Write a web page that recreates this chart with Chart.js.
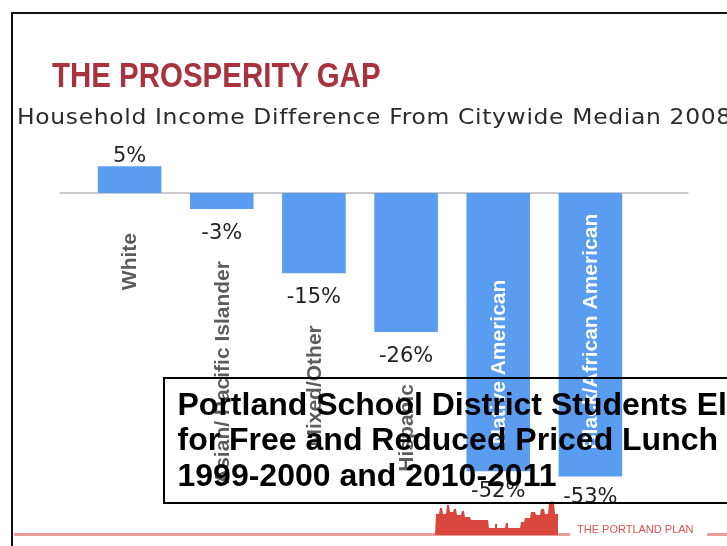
<!DOCTYPE html>
<html><head><meta charset="utf-8">
<script src="https://cdn.jsdelivr.net/npm/chart.js@4.4.0/dist/chart.umd.min.js"></script>
<style>
html,body{margin:0;padding:0;background:#fff;overflow:hidden;width:727px;height:546px;}
#wrap{position:relative;width:727px;height:546px;overflow:hidden;background:#fff;}
#c{position:absolute;left:0;top:0;}
.fr{position:absolute;background:#111;}
#title{position:absolute;left:52px;top:58px;font-family:"Liberation Sans",Arial,sans-serif;font-weight:bold;font-size:35.5px;line-height:35.5px;color:#a8333c;white-space:nowrap;transform-origin:0 0;transform:scaleX(0.83);}
#sub{position:absolute;left:17px;top:107px;font-family:"DejaVu Sans",sans-serif;font-size:21px;line-height:21px;letter-spacing:0.6px;color:#2b2b2b;white-space:nowrap;transform-origin:0 0;transform:scaleX(1.115);}
#box{position:absolute;left:163px;top:377px;width:700px;height:115px;border:2.5px solid #000;padding:7.5px 0 0 12.5px;font-family:"Liberation Sans",Arial,sans-serif;font-weight:bold;font-size:32px;line-height:35.5px;color:#000;white-space:nowrap;box-sizing:content-box;}
#plan{position:absolute;left:577px;top:524px;font-family:"Liberation Sans",Arial,sans-serif;font-size:11px;line-height:11px;color:#d9534f;white-space:nowrap;}
.rl{position:absolute;height:3px;background:#e89d9d;top:533px;}
svg{position:absolute;left:0;top:0;}
</style>
</head><body>
<div id="wrap">
<canvas id="c" width="727" height="546"></canvas>
<div class="fr" style="left:11px;top:12px;width:800px;height:2px;"></div>
<div class="fr" style="left:11px;top:12px;width:2px;height:600px;"></div>
<div id="title">THE PROSPERITY GAP</div>
<div id="sub">Household Income Difference From Citywide Median 2008</div>
<div class="rl" style="left:14px;width:556px;"></div>
<div class="rl" style="left:707px;width:40px;"></div>
<svg width="727" height="546"><polygon fill="#d9473f" points="435,535 436,514 439,514 440,508 442,508 443,514 446,514 447,505 449,505 450,512 453,512 454,509 456,509 457,515 461,515 462,511 464,511 465,517 470,517 471,520 488,520 489,528 495,528 495,524 497,524 497,528 505,528 506,523 508,523 508,528 520,528 521,522 524,522 525,518 530,518 531,512 535,512 536,515 540,515 541,509 544,509 545,514 548,514 549,503 552,501 554,503 555,514 558,514 558,535"/></svg>
<div id="plan">THE PORTLAND PLAN</div>
<div id="box">Portland School District Students Eligible<br>for Free and Reduced Priced Lunch<br>1999-2000 and 2010-2011</div>
</div>
<script>
const categories = ['White','Asian/ Pacific Islander','Mixed/Other','Hispanic','Native American','Black/African American'];
const values = [5,-3,-15,-26,-52,-53];
const valueLabels = ['5%','-3%','-15%','-26%','-52%','-53%'];
const labelInside = [false,false,false,false,true,true];
const yMin = -60, yMax = 10;

const labelPlugin = {
  id:'labels',
  beforeDatasetsDraw(chart){
    const ctx = chart.ctx, x = chart.scales.x, y = chart.scales.y;
    const y0 = y.getPixelForValue(0);
    ctx.save();
    ctx.strokeStyle = '#cacaca';
    ctx.lineWidth = 2;
    ctx.beginPath();
    ctx.moveTo(x.getPixelForValue(0) - 70, y0);
    ctx.lineTo(x.getPixelForValue(categories.length-1) + 98, y0);
    ctx.stroke();
    ctx.restore();
  },
  afterDatasetsDraw(chart){
    const ctx = chart.ctx;
    const y0 = chart.scales.y.getPixelForValue(0);
    const meta = chart.getDatasetMeta(0);
    meta.data.forEach((bar,i)=>{
      const v = values[i];
      ctx.save();
      ctx.font = '21px "DejaVu Sans"';
      ctx.fillStyle = '#222';
      ctx.textAlign = 'center';
      ctx.textBaseline = 'alphabetic';
      let catTop;
      if (v >= 0) {
        ctx.fillText(valueLabels[i], bar.x, bar.y - 4);
        catTop = y0 + 40;
      } else {
        const bl = bar.y + (labelInside[i] ? 26 : 30);
        ctx.fillText(valueLabels[i], bar.x, bl);
        catTop = bl + 22;
      }
      ctx.restore();
      ctx.save();
      ctx.font = 'bold 21px "Liberation Sans"';
      ctx.textBaseline = 'middle';
      if (labelInside[i]) {
        ctx.fillStyle = '#ffffff';
        ctx.translate(bar.x, bar.y - 27);
        ctx.rotate(-Math.PI/2);
        ctx.textAlign = 'left';
      } else {
        ctx.fillStyle = '#5c5c5c';
        ctx.translate(bar.x, catTop);
        ctx.rotate(-Math.PI/2);
        ctx.textAlign = 'right';
      }
      ctx.fillText(categories[i], 0, 1);
      ctx.restore();
    });
  }
};

new Chart(document.getElementById('c'), {
  type:'bar',
  data:{ labels: categories, datasets:[{ data: values, backgroundColor:'#5a9cf0', borderWidth:0, barPercentage:0.69, categoryPercentage:1 }]},
  options:{
    responsive:false, animation:false,
    layout:{ padding:{ top:139.5, bottom:32, left:83.5, right:90.5 } },
    plugins:{ legend:{display:false}, tooltip:{enabled:false}, title:{display:false} },
    scales:{
      x:{ display:false, grid:{display:false} },
      y:{ display:false, min:yMin, max:yMax, grid:{display:false} }
    }
  },
  plugins:[labelPlugin]
});
</script>
</body></html>
